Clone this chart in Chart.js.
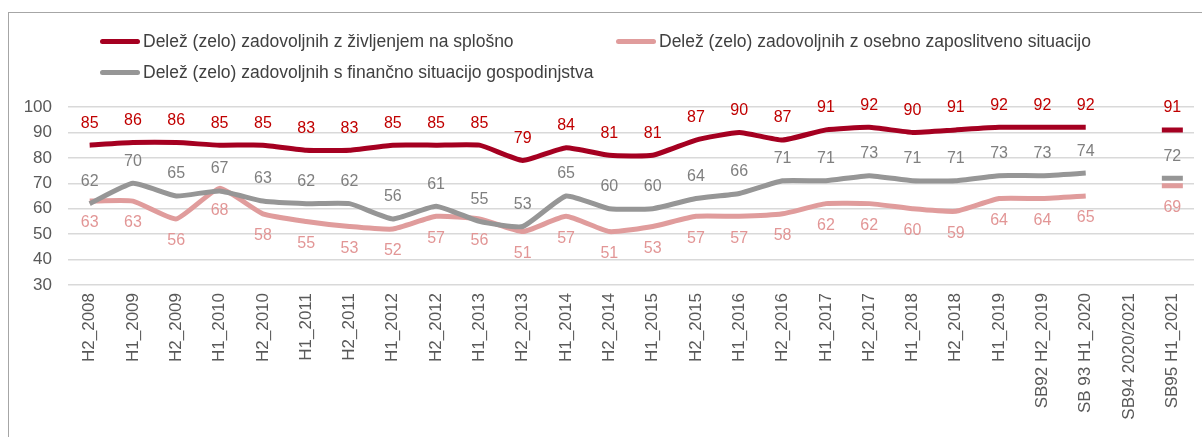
<!DOCTYPE html>
<html>
<head>
<meta charset="utf-8">
<script src="https://cdn.jsdelivr.net/npm/chart.js@4"></script>
<style>
  html,body{margin:0;padding:0;background:#fff;overflow:hidden;}
  #wrap{position:relative;width:1202px;height:437px;overflow:hidden;font-family:"Liberation Sans",Arial,sans-serif;}
  #frame{position:absolute;left:8px;top:12px;width:1400px;height:600px;border:1px solid #a6a6a6;box-sizing:border-box;}
  #cv{position:absolute;left:0;top:0;}
  .lg{position:absolute;font-size:17.5px;color:#404040;white-space:nowrap;line-height:20px;height:20px;}
  .lg i{display:inline-block;width:40px;height:5px;border-radius:3px;vertical-align:middle;margin-right:3px;position:relative;top:-1px;}
</style>
</head>
<body>
<div id="wrap">
  <div id="frame"></div>
  <canvas id="cv" width="1202" height="437"></canvas>
  <div id="legend"></div>
</div>
<script>
const categories = ["H2_2008","H1_2009","H2_2009","H1_2010","H2_2010","H1_2011","H2_2011","H1_2012","H2_2012","H1_2013","H2_2013","H1_2014","H2_2014","H1_2015","H2_2015","H1_2016","H2_2016","H1_2017","H2_2017","H1_2018","H2_2018","H1_2019","SB92 H2_2019","SB 93 H1_2020","SB94 2020/2021","SB95 H1_2021"];
const lifeValues = [85,86,86,85,85,83,83,85,85,85,79,84,81,81,87,90,87,91,92,90,91,92,92,92,null,91];
const jobValues = [63,63,56,68,58,55,53,52,57,56,51,57,51,53,57,57,58,62,62,60,59,64,64,65,null,69];
const financeValues = [62,70,65,67,63,62,62,56,61,55,53,65,60,60,64,66,71,71,73,71,71,73,73,74,null,72];
const seriesNames = [
  "Delež (zelo) zadovoljnih z življenjem na splošno",
  "Delež (zelo) zadovoljnih z osebno zaposlitveno situacijo",
  "Delež (zelo) zadovoljnih s finančno situacijo gospodinjstva"
];
const yTicks = [30,40,50,60,70,80,90,100];

const lineColors = ["#a50021","#e09c9c","#969696"];
const labelColors = ["#c00000","#e29696","#7f7f7f"];
const labelAbove = [true,false,true];

// HTML legend
const legendPos = [[100,31],[616,31],[100,62]];
const lg = document.getElementById('legend');
seriesNames.forEach((n,i)=>{
  const d=document.createElement('div');
  d.className='lg';
  d.style.left=legendPos[i][0]+'px';
  d.style.top=legendPos[i][1]+'px';
  d.innerHTML='<i style="background:'+lineColors[i]+'"></i>'+n;
  lg.appendChild(d);
});

const lastIdx = categories.length-1;
function mkDs(data,i){
  return {
    label: seriesNames[i],
    data: data,
    borderColor: lineColors[i],
    backgroundColor: lineColors[i],
    borderWidth: 5,
    tension: 0.15,
    spanGaps: false,
    pointStyle: 'line',
    pointRadius: ctx => ctx.dataIndex===lastIdx ? 10.5 : 0,
    pointHoverRadius: ctx => ctx.dataIndex===lastIdx ? 10.5 : 0,
    pointBorderWidth: 5,
    pointBorderColor: lineColors[i],
    order: i===0 ? 0 : (i===2 ? 1 : 2)
  };
}

const labelPlugin = {
  id:'valueLabels',
  afterDatasetsDraw(chart){
    const c=chart.ctx;
    c.save();
    c.font='16px "Liberation Sans", Arial, sans-serif';
    c.textAlign='center';
    c.textBaseline='middle';
    chart.data.datasets.forEach((ds,i)=>{
      const meta=chart.getDatasetMeta(i);
      meta.data.forEach((pt,j)=>{
        const v=ds.data[j];
        if(v===null||v===undefined) return;
        c.fillStyle=labelColors[i];
        const y = labelAbove[i] ? pt.y-22 : pt.y+22;
        c.fillText(String(v), pt.x, y);
      });
    });
    c.restore();
  }
};

new Chart(document.getElementById('cv'),{
  type:'line',
  data:{labels:categories,datasets:[mkDs(lifeValues,0),mkDs(jobValues,1),mkDs(financeValues,2)]},
  options:{
    responsive:false,
    animation:false,
    devicePixelRatio:1,
    layout:{autoPadding:false,padding:{top:107,left:10,right:8,bottom:0}},
    plugins:{legend:{display:false},tooltip:{enabled:false}},
    scales:{
      x:{
        offset:true,
        grid:{display:false,drawTicks:false},
        border:{display:false},
        afterFit: ax => { ax.height = 152; ax.paddingLeft = 0; ax.paddingRight = 0; },
        ticks:{maxRotation:90,minRotation:90,autoSkip:false,color:'#595959',padding:8,
               font:{family:'"Liberation Sans", Arial, sans-serif',size:17}}
      },
      y:{
        min:30,max:100,
        afterBuildTicks: ax => { ax.ticks = yTicks.map(v=>({value:v})); },
        afterFit: ax => { ax.width = 58; },
        grid:{color:'#d9d9d9',lineWidth:1.5,drawTicks:false},
        border:{display:false},
        ticks:{color:'#595959',padding:16,font:{family:'"Liberation Sans", Arial, sans-serif',size:17}}
      }
    }
  },
  plugins:[labelPlugin]
});
</script>
</body>
</html>
